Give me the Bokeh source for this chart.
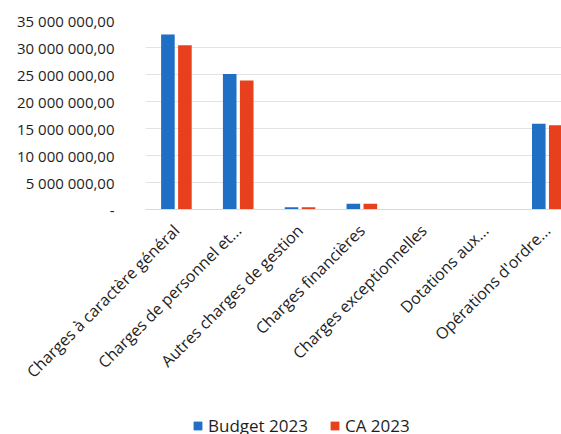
from bokeh.plotting import figure
from bokeh.layouts import column
from bokeh.models import Range1d, Legend, LegendItem, ColumnDataSource, FixedTicker
from bokeh.transform import dodge
from bokeh.embed import file_html
from bokeh.resources import INLINE
import math

categories = ["Charges à caractère général", "Charges de personnel et...",
              "Autres charges de gestion", "Charges financières",
              "Charges exceptionnelles", "Dotations aux...", "Opérations d'ordre..."]
budget_2023 = [32400000, 25100000, 400000, 1050000, 0, 0, 15900000]
ca_2023 = [30400000, 23900000, 400000, 1050000, 0, 0, 15600000]
y_ticks = [0, 5000000, 10000000, 15000000, 20000000, 25000000, 30000000, 35000000]
y_tick_labels = ["-", "5 000 000,00", "10 000 000,00", "15 000 000,00",
                 "20 000 000,00", "25 000 000,00", "30 000 000,00", "35 000 000,00"]
series_names = ["Budget 2023", "CA 2023"]

BLUE = "#1F6FC4"
RED = "#E8401C"
FONT = "Open Sans"
TXT = "#1E1E1E"

x = list(range(len(categories)))
src = ColumnDataSource(dict(x=x, budget=budget_2023, ca=ca_2023))

p = figure(frame_width=416, frame_height=189, output_backend="svg",
           toolbar_location=None, x_range=Range1d(-0.5, 6.23),
           y_range=Range1d(0, 35000000))
p.min_border_left = 145
p.min_border_right = 0
p.min_border_top = 20
p.min_border_bottom = 178
p.outline_line_color = None
p.background_fill_color = "white"
p.border_fill_color = "white"

r1 = p.vbar(x=dodge("x", -0.1375), top="budget", width=0.22, source=src,
            fill_color=BLUE, line_color=None)
r2 = p.vbar(x=dodge("x", 0.1375), top="ca", width=0.22, source=src,
            fill_color=RED, line_color=None)

p.yaxis.ticker = FixedTicker(ticks=y_ticks)
p.yaxis.major_label_overrides = {t: l for t, l in zip(y_ticks, y_tick_labels)}
p.yaxis.axis_line_color = None
p.yaxis.major_tick_line_color = None
p.yaxis.minor_tick_line_color = None
p.yaxis.major_label_text_font = FONT
p.yaxis.major_label_text_font_size = "15px"
p.yaxis.major_label_text_color = TXT
p.yaxis.major_label_standoff = 25

p.xaxis.ticker = FixedTicker(ticks=x)
p.xaxis.major_label_overrides = {i: c for i, c in enumerate(categories)}
p.xaxis.major_label_orientation = math.pi / 4
p.xaxis.axis_line_color = "#D9D9D9"
p.xaxis.major_tick_line_color = None
p.xaxis.minor_tick_line_color = None
p.xaxis.major_label_text_font = FONT
p.xaxis.major_label_text_font_size = "16px"
p.xaxis.major_label_text_color = TXT
p.xaxis.major_label_standoff = 12

p.xgrid.grid_line_color = None
p.ygrid.grid_line_color = "#E3E3E3"

# legend strip below the chart (same series, hidden renderers feed the legend)
q = figure(width=561, height=47, output_backend="svg", toolbar_location=None,
           x_range=Range1d(-0.5, 6.23), y_range=Range1d(-2, -1), min_border=0)
q.axis.visible = False
q.grid.visible = False
q.outline_line_color = None
g1 = q.vbar(x=dodge("x", -0.1375), top="budget", width=0.22, source=src,
            fill_color=BLUE, line_color=None)
g2 = q.vbar(x=dodge("x", 0.1375), top="ca", width=0.22, source=src,
            fill_color=RED, line_color=None)
g1.visible = False
g2.visible = False
legend = Legend(items=[LegendItem(label=series_names[0], renderers=[g1]),
                       LegendItem(label=series_names[1], renderers=[g2])],
                orientation="horizontal", location=(47, 2))
legend.label_text_font = FONT
legend.label_text_font_size = "17px"
legend.label_text_color = TXT
legend.glyph_width = 11
legend.glyph_height = 11
legend.spacing = 21
legend.label_standoff = 5
legend.border_line_color = None
legend.background_fill_alpha = 0
legend.inactive_fill_alpha = 0
legend.margin = 0
legend.padding = 0
q.add_layout(legend, "center")

layout = column(p, q, spacing=0)
open("out.html", "w").write(file_html(layout, INLINE))
